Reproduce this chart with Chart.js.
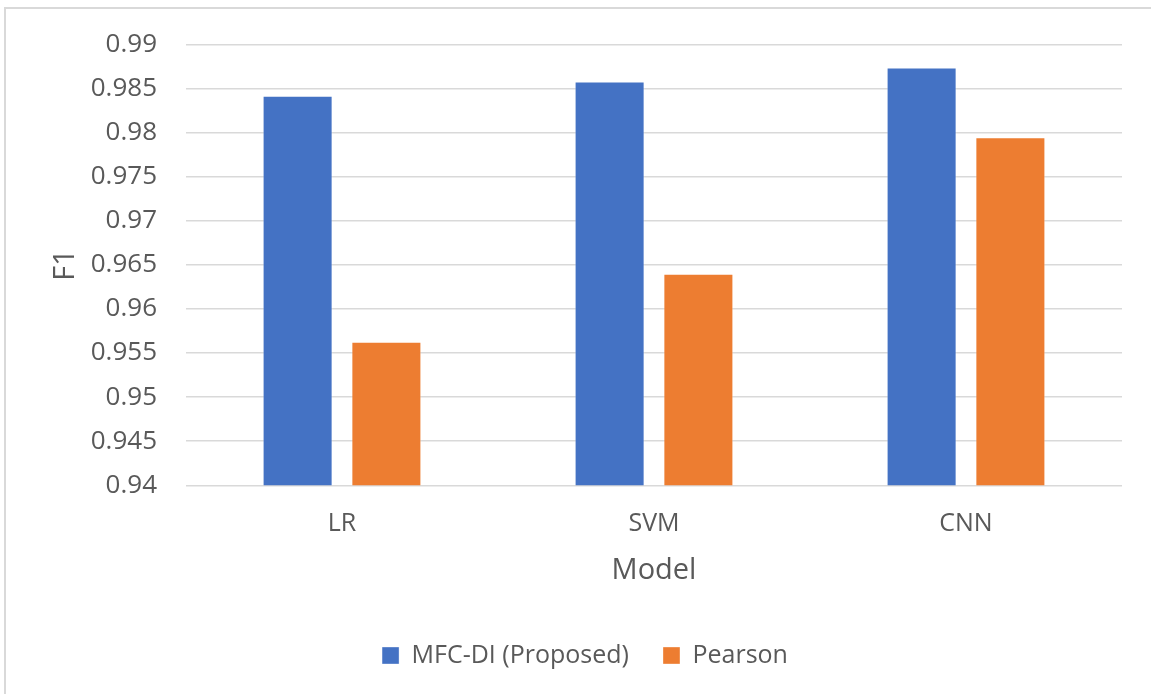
<!DOCTYPE html>
<html>
<head>
<meta charset="utf-8">
<script src="https://cdn.jsdelivr.net/npm/chart.js@4.4.1/dist/chart.umd.min.js"></script>
<style>
  html, body { margin: 0; padding: 0; background: #ffffff; }
  #wrap { position: relative; width: 1151px; height: 694px; overflow: hidden; }
  #frame { position: absolute; left: 4px; top: 7px; width: 1200px; height: 800px;
           border: 2px solid #d9d9d9; box-sizing: border-box; }
  #c { position: absolute; left: 0; top: 0; }
</style>
</head>
<body>
<div id="wrap">
  <div id="frame"></div>
  <canvas id="c" width="1151" height="694"></canvas>
</div>
<script>
// F1 scores per model
const models = ['LR', 'SVM', 'CNN'];
const proposedF1 = [0.9842, 0.9858, 0.9874];
const pearsonF1 = [0.9563, 0.9640, 0.9795];
const seriesNames = ['MFC-DI (Proposed)', 'Pearson'];
const yMin = 0.94, yMax = 0.99, yStep = 0.005;

const textColor = '#595959';
const fontFamily = "'Open Sans', 'Liberation Sans', sans-serif";
const PLOT_BOTTOM = 485.3;
const PAD_BOTTOM = 16;
const PAD_LEFT = 48;

new Chart(document.getElementById('c'), {
  type: 'bar',
  data: {
    labels: models,
    datasets: [
      { label: seriesNames[0], data: proposedF1, backgroundColor: '#4472C4',
        borderColor: 'rgba(255,255,255,0.35)', borderWidth: 1 },
      { label: seriesNames[1], data: pearsonF1, backgroundColor: '#ED7D31',
        borderColor: 'rgba(255,255,255,0.35)', borderWidth: 1 }
    ]
  },
  options: {
    responsive: false,
    animation: false,
    devicePixelRatio: 1,
    layout: { padding: { left: PAD_LEFT, top: 43.5, right: 29, bottom: PAD_BOTTOM } },
    datasets: { bar: { barPercentage: 0.789, categoryPercentage: 0.569 } },
    plugins: {
      tooltip: { enabled: false },
      legend: {
        position: 'bottom',
        labels: {
          color: textColor,
          font: { family: fontFamily, size: 25 },
          boxWidth: 17, boxHeight: 17, padding: 34
        }
      }
    },
    scales: {
      x: {
        grid: { display: false },
        border: { display: false },
        ticks: { color: textColor, font: { family: fontFamily, size: 25 }, padding: 16 },
        title: { display: true, text: 'Model', color: textColor,
                 font: { family: fontFamily, size: 29 }, padding: { top: 0, bottom: 21 } },
        afterFit: (s) => {
          const legendH = s.chart.legend ? s.chart.legend.height : 0;
          s.height = s.chart.height - PAD_BOTTOM - legendH - PLOT_BOTTOM;
        }
      },
      y: {
        min: yMin, max: yMax,
        grid: { color: '#d9d9d9', lineWidth: 1.5, drawTicks: false },
        border: { display: false },
        ticks: {
          stepSize: yStep, color: textColor, padding: 29,
          font: { family: fontFamily, size: 26 },
          callback: (v) => String(parseFloat(Number(v).toFixed(3)))
        },
        title: { display: true, text: 'F1', color: textColor,
                 font: { family: fontFamily, size: 29 }, padding: { top: 0, bottom: 0 } },
        afterFit: (s) => { s.width = 186 - PAD_LEFT; }
      }
    }
  }
});
</script>
</body>
</html>
